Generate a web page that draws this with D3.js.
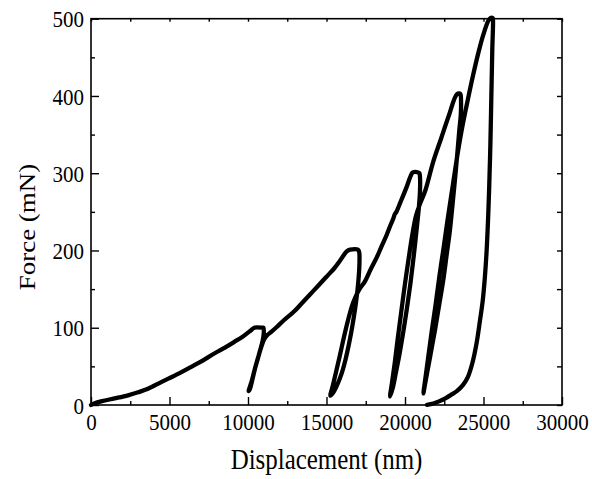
<!DOCTYPE html>
<html>
<head>
<meta charset="utf-8">
<script src="https://cdn.jsdelivr.net/npm/d3@7"></script>
<style>
  html, body { margin: 0; padding: 0; background: #fff; }
  svg { display: block; }
  svg text { font-family: "Liberation Serif", "Times New Roman", serif !important; fill: #000; }
</style>
</head>
<body>
<svg id="chart" width="592" height="479"></svg>
<script>
// ---- data (displacement in nm, force in mN), in measurement order ----
const displacement = [
  0, 200, 700, 1500, 2357, 3000, 3630, 4500, 5330, 6180, 7000, 7880, 8500, 9150, 9700, 10210, 10400, 10950,
  10990, 11000, 10930, 10760, 10600, 10445, 10280, 10130, 10040,
  10250, 10480, 10680, 10860, 11030, 11200, 11500, 11830, 12300, 12880, 13400, 13950, 14500, 15000, 15500, 15800, 16100, 16300, 16500, 17000,
  17080, 17100, 17060, 16980, 16880, 16750, 16600, 16420, 16200, 15950, 15680, 15430, 15250,
  15400, 15600, 15830, 16080, 16350, 16620, 16850, 17100, 17450, 17800, 18200, 18500, 18830, 19100, 19250, 19350, 19450, 19700, 20100, 20350, 20500, 20850,
  20920, 20960, 20950, 20880, 20780, 20640, 20500, 20330, 20130, 19900, 19650, 19420, 19220, 19050,
  19180, 19350, 19550, 19770, 20000, 20250, 20480, 20700, 20950, 21300, 21800, 22300, 22800, 23300, 23500,
  23540, 23570, 23550, 23460, 23330, 23180, 23020, 22860, 22650, 22440, 22180, 21910, 21650, 21420, 21270, 21170,
  21300, 21480, 21700, 21950, 22200, 22470, 22750, 23050, 23350, 23650, 24000, 24350, 24700, 25000, 25300, 25450, 25580,
  25600, 25560, 25500, 25440, 25360, 25290, 25200, 25090, 24950, 24780, 24560, 24300, 24000, 23700, 23300, 23000, 22600, 22200, 21800, 21400
];
const force = [
  0, 2, 5, 8.5, 12.5, 16.5, 21, 30, 38, 47, 56, 67, 74, 82, 89, 97, 100, 100,
  100, 92, 83, 70, 58, 47, 33, 21, 18,
  32, 50, 64, 76, 85, 90, 95, 101, 110, 120, 131, 143, 155, 166, 177, 185, 194, 199, 201, 201,
  198, 185, 168, 150, 133, 115, 97, 78, 58, 40, 26, 16, 12,
  25, 42, 62, 85, 108, 128, 140, 150, 160, 175, 191, 205, 220, 234, 241, 247, 250, 262, 282, 296, 301, 301,
  300, 293, 275, 255, 235, 208, 183, 155, 126, 96, 66, 42, 22, 11,
  30, 55, 88, 122, 157, 192, 222, 245, 260, 278, 315, 345, 375, 402, 403,
  402, 392, 375, 356, 325, 291, 258, 226, 194, 162, 130, 97, 68, 43, 26, 15,
  35, 62, 95, 130, 168, 205, 245, 285, 325, 360, 395, 428, 458, 480, 497, 501, 501,
  500, 460, 400, 339, 280, 240, 200, 166, 135, 110, 80, 55, 36, 26, 18, 14, 9, 5, 2, 0.3
];

const xTicks = [0, 5000, 10000, 15000, 20000, 25000, 30000];
const xMinorTicks = [2500, 7500, 12500, 17500, 22500, 27500];
const yTicks = [0, 100, 200, 300, 400, 500];
const yMinorTicks = [50, 150, 250, 350, 450];
const xTitle = "Displacement (nm)";
const yTitle = "Force (mN)";

// ---- layout ----
const padL = 91, padR = 562, padT = 18.7, padB = 405;
const squeeze = 0.875;
const serif = '"Liberation Serif", "Times New Roman", serif';

const svg = d3.select("#chart");
const x = d3.scaleLinear().domain([0, 30000]).range([padL, padR]);
const y = d3.scaleLinear().domain([0, 500]).range([padB, padT]);

// curve
const pts = displacement.map((d, i) => [d, force[i]]);
const line = d3.line()
  .x(d => x(d[0]))
  .y(d => y(d[1]))
  .curve(d3.curveCatmullRom.alpha(0.5));

svg.append("path")
  .datum(pts)
  .attr("d", line)
  .attr("fill", "none")
  .attr("stroke", "#000")
  .attr("stroke-width", 4.3)
  .attr("stroke-linejoin", "round")
  .attr("stroke-linecap", "round");

// bottom axis
const gx = svg.append("g").attr("transform", `translate(0,${padB})`)
  .call(d3.axisBottom(x).tickValues(xTicks).tickSize(-8).tickSizeOuter(0).tickFormat(d3.format("d")));
gx.selectAll("text")
  .attr("y", 25).attr("dy", null)
  .attr("transform", `scale(${squeeze},1)`)
  .attr("font-family", serif)
  .style("font-family", serif)
  .style("font-size", "24px");
const gxm = svg.append("g").attr("transform", `translate(0,${padB})`)
  .call(d3.axisBottom(x).tickValues(xMinorTicks).tickSize(-4).tickSizeOuter(0).tickFormat(""));

// top axis (mirror, small ticks)
const gt = svg.append("g").attr("transform", `translate(0,${padT})`)
  .call(d3.axisTop(x).tickValues(xTicks.concat(xMinorTicks)).tickSize(-3).tickSizeOuter(0).tickFormat(""));

// left axis
const gy = svg.append("g").attr("transform", `translate(${padL},0)`)
  .call(d3.axisLeft(y).tickValues(yTicks).tickSize(-8).tickSizeOuter(0).tickFormat(d3.format("d")));
gy.selectAll("text")
  .attr("x", -8).attr("dy", "0.34em")
  .attr("transform", `scale(${squeeze},1)`)
  .attr("font-family", serif)
  .style("font-family", serif)
  .style("font-size", "24px");
const gym = svg.append("g").attr("transform", `translate(${padL},0)`)
  .call(d3.axisLeft(y).tickValues(yMinorTicks).tickSize(-4).tickSizeOuter(0).tickFormat(""));

// right axis (mirror)
const gr = svg.append("g").attr("transform", `translate(${padR},0)`)
  .call(d3.axisRight(y).tickValues(yTicks.concat(yMinorTicks)).tickSize(-5).tickSizeOuter(0).tickFormat(""));

[gx, gxm, gt, gy, gym, gr].forEach(g => {
  g.attr("font-family", serif);
  g.select(".domain").remove();
  g.selectAll("line").attr("stroke", "#000").attr("stroke-width", 1.4);
});

// frame
svg.append("rect")
  .attr("x", padL).attr("y", padT)
  .attr("width", padR - padL).attr("height", padB - padT)
  .attr("fill", "none").attr("stroke", "#000").attr("stroke-width", 1.6);

// titles
svg.append("text")
  .attr("transform", `translate(${(padL + padR) / 2},469) scale(${squeeze},1)`)
  .attr("text-anchor", "middle")
  .style("font-family", serif)
  .style("font-size", "28.5px")
  .text(xTitle);

svg.append("text")
  .attr("transform", `translate(35,227) scale(${squeeze},1) rotate(-90)`)
  .attr("text-anchor", "middle")
  .style("font-family", serif)
  .style("font-size", "27px")
  .text(yTitle);
</script>
</body>
</html>
